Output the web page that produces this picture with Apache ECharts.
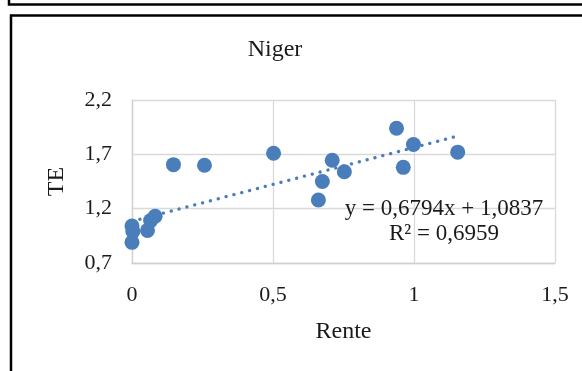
<!DOCTYPE html>
<html>
<head>
<meta charset="utf-8">
<script src="https://cdn.jsdelivr.net/npm/echarts@6/dist/echarts.min.js"></script>
<style>html,body{margin:0;padding:0;background:#fff;}#c{width:582px;height:371px;}</style>
</head>
<body>
<div id="c"></div>
<script>
var chartTitle = "Niger";
var xAxisName = "Rente";
var yAxisName = "TE";
var rente = [0, 0.003, 0, 0.055, 0.066, 0.082, 0.147, 0.257, 0.502, 0.661, 0.675, 0.71, 0.753, 0.938, 0.962, 0.998, 1.155];
var te    = [1.04, 0.99, 0.89, 1.00, 1.09, 1.13, 1.605, 1.60, 1.71, 1.28, 1.45, 1.645, 1.54, 1.94, 1.58, 1.79, 1.72];
var trendSlope = 0.6794;
var trendIntercept = 1.0837;
var equationText = "y = 0,6794x + 1,0837";
var r2Text = "R² = 0,6959";

var font = "'Liberation Serif', 'Times New Roman', serif";
var points = rente.map(function (x, i) { return [x, te[i]]; });
var xMin = Math.min.apply(null, rente), xMax = Math.max.apply(null, rente);
var trend = [[xMin, trendIntercept + trendSlope * xMin], [xMax, trendIntercept + trendSlope * xMax]];
function fmt(v) { return String(Math.round(v * 10) / 10).replace('.', ','); }

var chart = echarts.init(document.getElementById('c'));
chart.setOption({
  animation: false,
  backgroundColor: '#fff',
  grid: { left: 132, right: 27, top: 100, bottom: 108 },
  xAxis: {
    type: 'value', min: 0, max: 1.5, interval: 0.5,
    name: xAxisName, nameLocation: 'middle', nameGap: 57,
    nameTextStyle: { fontFamily: font, fontSize: 24, color: '#1a1a1a' },
    axisLine: { show: true, lineStyle: { color: '#d0d0d0', width: 1.3 } },
    axisTick: { show: false },
    axisLabel: { fontFamily: font, fontSize: 22, color: '#1a1a1a', margin: 21, formatter: fmt },
    splitLine: { show: true, lineStyle: { color: '#d9d9d9', width: 1.3 } }
  },
  yAxis: {
    type: 'value', min: 0.7, max: 2.2, interval: 0.5,
    name: yAxisName, nameLocation: 'middle', nameGap: 63,
    nameTextStyle: { fontFamily: font, fontSize: 24, color: '#1a1a1a' },
    axisLine: { show: true, lineStyle: { color: '#d0d0d0', width: 1.3 } },
    axisTick: { show: false },
    axisLabel: { fontFamily: font, fontSize: 22, color: '#1a1a1a', margin: 20, formatter: fmt },
    splitLine: { show: true, lineStyle: { color: '#d9d9d9', width: 1.3 } }
  },
  series: [
    {
      type: 'line', data: trend, symbol: 'none', silent: true, z: 3,
      lineStyle: { color: '#4a7ebb', width: 3.3, type: [0.1, 8], cap: 'round' }
    },
    {
      type: 'scatter', data: points, symbol: 'circle', symbolSize: 15, z: 4,
      itemStyle: { color: '#4a7ebb', opacity: 1 }
    }
  ],
  graphic: [
    { type: 'rect', shape: { x: 11, y: 15.5, width: 700, height: 500 },
      style: { fill: 'none', stroke: '#000', lineWidth: 2.5 }, silent: true },
    { type: 'rect', shape: { x: 9, y: -100, width: 700, height: 104.5 },
      style: { fill: 'none', stroke: '#000', lineWidth: 2.5 }, silent: true },
    { type: 'text', x: 275, y: 50,
      style: { text: chartTitle, font: '24px ' + font, fill: '#1a1a1a', textAlign: 'center', textVerticalAlign: 'middle' } },
    { type: 'text', x: 444, y: 221, z: 10,
      style: { text: equationText + '\n' + r2Text, font: '23px ' + font, lineHeight: 25, fill: '#1a1a1a', textAlign: 'center', textVerticalAlign: 'middle' } }
  ]
});
</script>
</body>
</html>
